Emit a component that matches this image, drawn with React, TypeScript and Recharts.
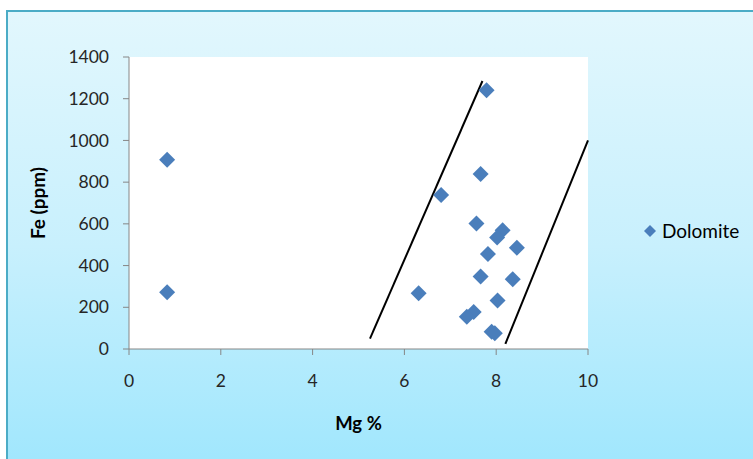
import React from "react";
import { ScatterChart, Scatter, XAxis, YAxis, CartesianGrid, ReferenceLine, Label } from "recharts";

// Mg % vs Fe (ppm)
const mgValues = [0.83, 0.83, 7.79, 7.66, 6.8, 7.57, 8.14, 8.02, 8.45, 7.82, 7.66, 8.36, 6.31, 8.03, 7.51, 7.36, 7.9, 7.97];
const feValues = [907, 272, 1241, 839, 738, 602, 569, 534, 486, 455, 348, 335, 267, 233, 177, 155, 83, 75];

const xTicks = [0, 2, 4, 6, 8, 10];
const yTicks = [0, 200, 400, 600, 800, 1000, 1200, 1400];
const seriesName = "Dolomite";

// two boundary lines drawn across the field
const leftBound = [{ x: 5.25, y: 50 }, { x: 7.7, y: 1285 }];
const rightBound = [{ x: 8.2, y: 25 }, { x: 10, y: 1000 }];

const data = mgValues.map((mg, i) => ({ mg, fe: feValues[i] }));

const FONT = "Lato, 'Open Sans', sans-serif";
const BLUE = "#4A7EBB";

const Diamond = (props: any) => {
    const { cx, cy } = props;
    if (cx == null || cy == null) return null;
    const r = 8;
    return <polygon points={`${cx},${cy - r} ${cx + r},${cy} ${cx},${cy + r} ${cx - r},${cy}`} fill={BLUE} />;
};

export default function App() {
    return (
        <div style={{ position: "fixed", left: 0, top: 0, width: 753, height: 459, background: "#fff", overflow: "hidden" }}>
            <div
                style={{
                    position: "absolute",
                    left: 6,
                    top: 10,
                    width: 760,
                    height: 470,
                    border: "2px solid #4BACC6",
                    background: "linear-gradient(to bottom, #E2F7FD 0%, #C8F0FD 50%, #9DE6FD 100%)",
                }}
            />
            <div style={{ position: "absolute", left: 0, top: 0 }}>
                <ScatterChart width={753} height={459} margin={{ top: 57, right: 165, bottom: 50, left: 0 }} style={{ fontFamily: FONT }}>
                    <CartesianGrid fill="#fff" horizontal={false} vertical={false} />
                    <XAxis
                        type="number"
                        dataKey="mg"
                        domain={[0, 10]}
                        ticks={xTicks}
                        height={60}
                        stroke="#868686"
                        tickSize={6}
                        tickMargin={20}
                        tick={{ fill: "#262626", fontSize: 17.5, fontFamily: FONT }}
                    >
                        <Label value="Mg %" position="center" dy={44} style={{ fontWeight: 700, fontSize: 18.5, fill: "#000", fontFamily: FONT }} />
                    </XAxis>
                    <YAxis
                        type="number"
                        dataKey="fe"
                        domain={[0, 1400]}
                        ticks={yTicks}
                        width={129}
                        stroke="#868686"
                        tickSize={6}
                        tickMargin={14}
                        tick={{ fill: "#262626", fontSize: 17.5, fontFamily: FONT }}
                    >
                        <Label value="Fe (ppm)" angle={-90} position="center" dx={-26} style={{ fontWeight: 700, fontSize: 19, fill: "#000", fontFamily: FONT }} />
                    </YAxis>
                    <ReferenceLine segment={leftBound} stroke="#000" strokeWidth={2} ifOverflow="visible" />
                    <ReferenceLine segment={rightBound} stroke="#000" strokeWidth={2} ifOverflow="visible" />
                    <Scatter name={seriesName} data={data} fill={BLUE} shape={<Diamond />} isAnimationActive={false} />
                </ScatterChart>
            </div>
            <div style={{ position: "absolute", left: 643, top: 219, display: "flex", alignItems: "center", fontFamily: FONT, fontSize: 19, color: "#000" }}>
                <svg width={14} height={14} style={{ marginRight: 5 }}>
                    <polygon points="7,1 13,7 7,13 1,7" fill={BLUE} />
                </svg>
                <span>{seriesName}</span>
            </div>
        </div>
    );
}
